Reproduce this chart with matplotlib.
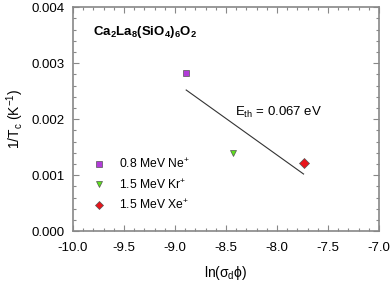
import matplotlib
matplotlib.use("Agg")
import matplotlib.pyplot as plt
from matplotlib.ticker import MultipleLocator

plt.rcParams['font.family'] = ['Liberation Sans', 'DejaVu Sans']
plt.rcParams['mathtext.fontset'] = 'custom'
plt.rcParams['mathtext.rm'] = 'Liberation Sans'
plt.rcParams['mathtext.it'] = 'Liberation Sans'
plt.rcParams['mathtext.bf'] = 'Liberation Sans:bold'

# data
ions = ['0.8 MeV Ne$^{+}$', '1.5 MeV Kr$^{+}$', '1.5 MeV Xe$^{+}$']
ln_sigma_phi = [-8.89, -8.43, -7.74]
inv_tc = [0.00283, 0.00139, 0.001225]
markers = ['s', 'v', 'D']
colors = ['#b23bd9', '#5de01c', '#e8141b']

fit_x = [-8.89, -7.74]
fit_y = [0.00252, 0.00102]

fig = plt.figure(figsize=(3.92, 2.85), dpi=100)
ax = fig.add_axes([0.186, 0.189, 0.781, 0.786])

for lab, x, y, m, c in zip(ions, ln_sigma_phi, inv_tc, markers, colors):
    ax.plot(x, y, m, color=c, mec='#555555', mew=0.5, ms=5, ls='none', label=lab)
ax.plot(fit_x, fit_y, color='#333333', lw=0.8)

ax.set_xlim(-10, -7)
ax.set_ylim(0, 0.004)
ax.xaxis.set_major_locator(MultipleLocator(0.5))
ax.xaxis.set_minor_locator(MultipleLocator(0.1))
ax.yaxis.set_major_locator(MultipleLocator(0.001))
ax.yaxis.set_minor_locator(MultipleLocator(0.0002))
ax.xaxis.set_major_formatter(plt.FuncFormatter(lambda v, p: f'{v:.1f}'))
ax.yaxis.set_major_formatter(plt.FuncFormatter(lambda v, p: f'{v:.3f}'))
ax.tick_params(which='both', direction='in', top=True, right=True,
               color='#888888', labelsize=9.5)
ax.tick_params(which='major', length=4, width=0.8)
ax.tick_params(which='minor', length=2.5, width=0.8)
ax.tick_params(axis='x', pad=8)
ax.tick_params(axis='y', pad=6)
for s in ax.spines.values():
    s.set_color('#888888')
    s.set_linewidth(1.2)

ax.set_xlabel(r'ln($\sigma_{\rm d}\phi$)', fontsize=10, labelpad=7)
ax.set_ylabel(r'1/T$_{\rm c}$ (K$^{-1}$)', fontsize=10, labelpad=4)

ax.text(0.065, 0.89, r'$\mathbf{Ca_2La_8(SiO_4)_6O_2}$', transform=ax.transAxes,
        fontsize=9.5, va='center')
ax.text(0.53, 0.53, r'E$_{\rm th}$ = 0.067 eV', transform=ax.transAxes,
        fontsize=9.5, va='center')

ax.legend(loc='lower left', bbox_to_anchor=(0.067, 0.085), frameon=False,
          fontsize=8.7, handlelength=1.0, handletextpad=1.1, markerscale=0.75,
          labelspacing=0.55, borderpad=0, borderaxespad=0)

fig.savefig('out.png', dpi=100)
